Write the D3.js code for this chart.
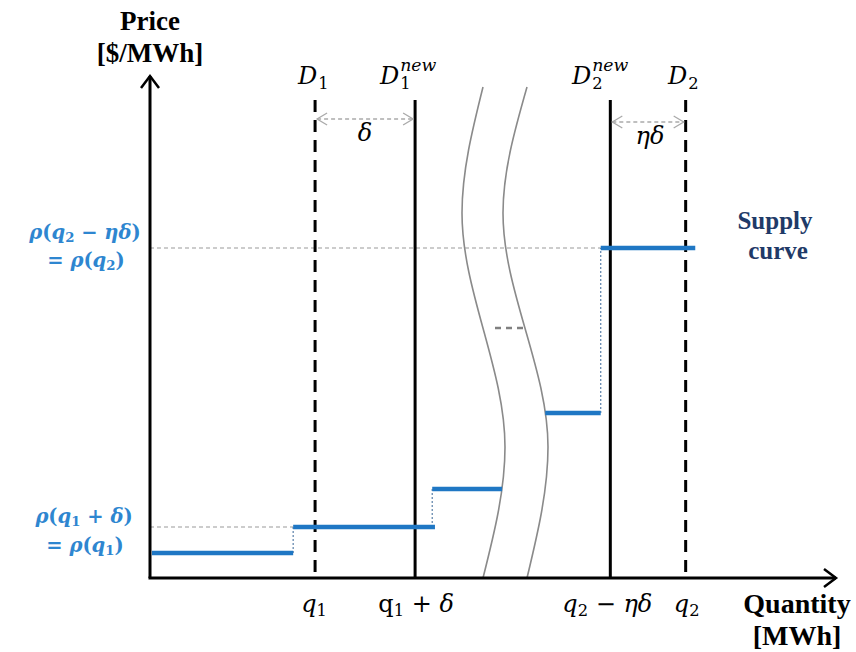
<!DOCTYPE html>
<html>
<head>
<meta charset="utf-8">
<script src="https://cdn.jsdelivr.net/npm/d3@7"></script>
<style>
  body { margin: 0; background: #fff; }
  svg { display: block; }
  text { font-family: "Liberation Serif", "DejaVu Serif", serif; }
</style>
</head>
<body>
<svg id="chart" width="856" height="652"></svg>
<script>
// Demand positions (quantity units)
const demandNames = ["D1", "D1new", "D2new", "D2"];
const demandQty   = [24.1, 38.7, 67.2, 78.2];
const demandStyle = ["dashed", "solid", "solid", "dashed"];

// Supply curve steps: start quantity, end quantity, price
const stepStart = [0.0, 20.9, 41.2, 57.7, 65.8];
const stepEnd   = [20.9, 41.6, 51.4, 65.8, 79.6];
const stepPrice = [5.0, 10.2, 17.8, 33.0, 66.0];

// Tick labels along the quantity axis
const tickQty = [24.1, 38.7, 67.2, 78.2];

const svg = d3.select("#chart");
const x = d3.scaleLinear().domain([0, 100]).range([150, 835]);
const y = d3.scaleLinear().domain([0, 100]).range([578, 78]);

const blue = "#1f77c4";
const labelBlue = "#2e86d0";
const navy = "#1f3a68";
const gray = "#9a9a9a";
const mathFont = "'DejaVu Serif', 'Liberation Serif', serif";
const titleFontFamily = "'Liberation Serif', serif";

// ---- break marks (two wavy lines) ----
const breakLeft  = [[483, 87], [462, 213], [505, 447], [483, 578]];
const breakRight = [[527, 87], [503, 213], [548, 447], [527, 578]];
const curve = d3.line().curve(d3.curveMonotoneY);
[breakLeft, breakRight].forEach(pts => {
  svg.append("path").attr("d", curve(pts))
    .attr("fill", "none").attr("stroke", "#8a8a8a").attr("stroke-width", 1.6);
});
// ellipsis between break marks
svg.append("line").attr("x1", 495).attr("x2", 523).attr("y1", 328).attr("y2", 328)
  .attr("stroke", "#808080").attr("stroke-width", 2.5).attr("stroke-dasharray", "6,5");

// ---- price reference lines ----
svg.append("line").attr("x1", x(0)).attr("x2", x(stepStart[4]))
  .attr("y1", y(stepPrice[4])).attr("y2", y(stepPrice[4]))
  .attr("stroke", gray).attr("stroke-width", 1.2).attr("stroke-dasharray", "4,3");
svg.append("line").attr("x1", x(0)).attr("x2", x(stepStart[1]))
  .attr("y1", y(stepPrice[1])).attr("y2", y(stepPrice[1]))
  .attr("stroke", gray).attr("stroke-width", 1.2).attr("stroke-dasharray", "4,3");

// ---- dotted risers of the supply curve ----
[[1, 0], [2, 1], [4, 3]].forEach(([i, j]) => {
  svg.append("line").attr("x1", x(stepStart[i])).attr("x2", x(stepStart[i]))
    .attr("y1", y(stepPrice[j])).attr("y2", y(stepPrice[i]))
    .attr("stroke", "#5a7fa8").attr("stroke-width", 1.2).attr("stroke-dasharray", "2,2");
});

// ---- demand lines ----
demandQty.forEach((q, i) => {
  svg.append("line").attr("x1", x(q)).attr("x2", x(q))
    .attr("y1", 100).attr("y2", y(0))
    .attr("stroke", "#000").attr("stroke-width", 3)
    .attr("stroke-dasharray", demandStyle[i] === "dashed" ? "12,8" : null);
});

// ---- supply curve steps ----
stepPrice.forEach((p, i) => {
  svg.append("line").attr("x1", x(stepStart[i]) + (i === 0 ? 2 : 0)).attr("x2", x(stepEnd[i]))
    .attr("y1", y(p)).attr("y2", y(p))
    .attr("stroke", blue).attr("stroke-width", 4.5);
});

// ---- axes ----
const axisG = svg.append("g").attr("stroke", "#000").attr("fill", "none");
axisG.append("path").attr("d", `M${x(0)},${y(0)} V76`).attr("stroke-width", 3);
axisG.append("path").attr("d", `M${x(0) - 1.5},${y(0)} H836`).attr("stroke-width", 3);
axisG.append("path").attr("d", `M141,88 L${x(0)},76 L159,88`).attr("stroke-width", 2.5);
axisG.append("path").attr("d", `M824,569 L836,${y(0)} L824,587`).attr("stroke-width", 2.5);

// ---- delta spacing arrows ----
function spacer(xa, xb, yy) {
  const g = svg.append("g").attr("stroke", "#aaa").attr("fill", "none").attr("stroke-width", 1.3);
  g.append("line").attr("x1", xa + 2).attr("x2", xb - 2).attr("y1", yy).attr("y2", yy)
    .attr("stroke-dasharray", "4,3");
  g.append("path").attr("d", `M${xa + 12},${yy - 6} L${xa + 2},${yy} L${xa + 12},${yy + 6}`);
  g.append("path").attr("d", `M${xb - 12},${yy - 6} L${xb - 2},${yy} L${xb - 12},${yy + 6}`);
}
spacer(x(demandQty[0]), x(demandQty[1]), 119);
spacer(x(demandQty[2]), x(demandQty[3]), 122);

function mathText(xp, yp, parts, opts = {}) {
  const t = svg.append("text").attr("x", xp).attr("y", yp)
    .attr("text-anchor", opts.anchor || "middle")
    .attr("font-size", opts.size || 22)
    .attr("fill", opts.fill || "#000")
    .attr("font-weight", opts.weight || "normal")
    .style("font-family", mathFont);
  parts.forEach(p => {
    const s = t.append("tspan").text(p.t)
      .attr("font-style", p.i ? "italic" : "normal");
    if (p.sub) s.attr("font-size", "0.68em").attr("baseline-shift", "-22%");
  });
  return t;
}

// demand labels: italic D with a subscript and an optional "new" superscript stacked above it
function demandLabel(xStart, idx, hasNew) {
  const size = 24;
  const d = svg.append("text").attr("x", xStart).attr("y", 84)
    .attr("font-size", size).attr("font-style", "italic")
    .style("font-family", mathFont).text("D");
  const w = d.node().getComputedTextLength();
  svg.append("text").attr("x", xStart + w + 1).attr("y", 89)
    .attr("font-size", size * 0.68).style("font-family", mathFont).text(idx);
  if (hasNew) {
    svg.append("text").attr("x", xStart + w + 1).attr("y", 71)
      .attr("font-size", size * 0.72).attr("font-style", "italic")
      .style("font-family", mathFont).text("new");
  }
}
demandLabel(298, "1", false);
demandLabel(380, "1", true);
demandLabel(572, "2", true);
demandLabel(668, "2", false);

// spacing labels
mathText((x(demandQty[0]) + x(demandQty[1])) / 2, 141, [{t: "δ", i: true}], {size: 24});
mathText((x(demandQty[2]) + x(demandQty[3])) / 2 + 2, 144, [{t: "ηδ", i: true}], {size: 24});

// quantity tick labels
const tOpts = {size: 24};
mathText(x(tickQty[0]) - 1, 612, [{t: "q", i: true}, {t: "1", sub: true}], tOpts);
mathText(x(tickQty[1]) + 1, 612, [{t: "q"}, {t: "1", sub: true}, {t: " + "}, {t: "δ", i: true}], tOpts);
mathText(x(tickQty[2]) - 3, 612, [{t: "q", i: true}, {t: "2", sub: true}, {t: " − "}, {t: "ηδ", i: true}], tOpts);
mathText(x(tickQty[3]) + 1, 612, [{t: "q", i: true}, {t: "2", sub: true}], tOpts);

// price labels (blue, bold italic)
const pOpts = {fill: labelBlue, weight: "bold", size: 19.5};
mathText(85, 239, [{t: "ρ", i: true}, {t: "("}, {t: "q", i: true}, {t: "2", sub: true}, {t: " − "}, {t: "ηδ", i: true}, {t: ")"}], pOpts);
mathText(86, 267, [{t: "= "}, {t: "ρ", i: true}, {t: "("}, {t: "q", i: true}, {t: "2", sub: true}, {t: ")"}], pOpts);
mathText(84, 523, [{t: "ρ", i: true}, {t: "("}, {t: "q", i: true}, {t: "1", sub: true}, {t: " + "}, {t: "δ", i: true}, {t: ")"}], pOpts);
mathText(85, 552, [{t: "= "}, {t: "ρ", i: true}, {t: "("}, {t: "q", i: true}, {t: "1", sub: true}, {t: ")"}], pOpts);

// axis titles
function title(xp, yp, txt, size, fill) {
  svg.append("text").attr("x", xp).attr("y", yp).text(txt)
    .attr("text-anchor", "middle").attr("font-size", size)
    .attr("font-weight", "bold").attr("fill", fill || "#000")
    .style("font-family", titleFontFamily);
}
title(150, 30, "Price", 27);
title(150, 62, "[$/MWh]", 27);
title(797, 613, "Quantity", 28);
title(797, 645, "[MWh]", 28);
title(775, 229, "Supply", 25, navy);
title(778, 259, "curve", 25, navy);
</script>
</body>
</html>
